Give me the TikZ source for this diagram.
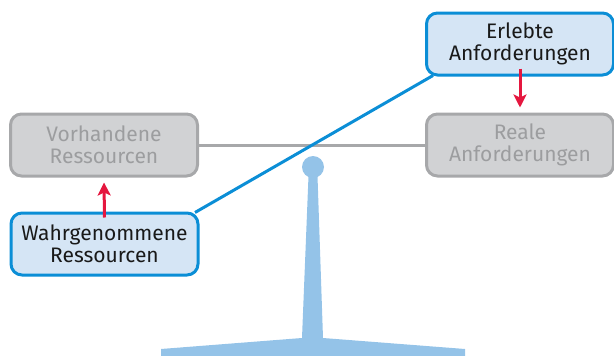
\documentclass[tikz,border=0pt]{standalone}
\usepackage{fontspec}
\setmainfont{Fira Sans}
\usetikzlibrary{arrows.meta}
\definecolor{boxgray}{HTML}{D1D2D4}
\definecolor{edgegray}{HTML}{A7A8AA}
\definecolor{textgray}{HTML}{9C9D9F}
\definecolor{boxblue}{HTML}{D5E5F5}
\definecolor{edgeblue}{HTML}{0B8ED6}
\definecolor{arrred}{HTML}{E5173F}
\definecolor{scaleblue}{HTML}{94C3E8}
\tikzset{
  box/.style={rounded corners=11pt, line width=3pt, minimum width=187pt, minimum height=62pt,
    align=center, inner sep=0pt, font=\fontsize{21}{22}\selectfont},
  graybox/.style={box, draw=edgegray, fill=boxgray, text=textgray},
  bluebox/.style={box, draw=edgeblue, fill=boxblue, text=black!90},
  redarrow/.style={draw=arrred, line width=3pt, -{Stealth[length=13pt,width=13pt,inset=3pt]}},
}
\begin{document}
\begin{tikzpicture}[x=1pt,y=-1pt]
\useasboundingbox (0,0) rectangle (614,356);
% scale support
\fill[scaleblue] (308.5,176) -- (317.5,176) -- (323,338) -- (465,349) -- (465,356) -- (161,356) -- (161,349) -- (302,338) -- cycle;
\fill[scaleblue] (313,167) circle (11);
% nodes
\node[graybox] (vorh) at (104,145) {Vorhandene\\Ressourcen};
\node[graybox] (real) at (520,145) {Reale\\Anforderungen};
\node[bluebox] (wahr) at (104.5,244) {Wahrgenommene\\Ressourcen};
\node[bluebox] (erl) at (520,44) {Erlebte\\Anforderungen};
% beams
\draw[edgegray, line width=3pt] (vorh.east) -- (real.west);
\coordinate (bl) at (195,212.5);
\coordinate (tr) at (433,75.5);
\draw[edgeblue, line width=3pt] (bl) -- (tr);
% arrows
\draw[redarrow] ([yshift=-6pt]wahr.north) -- ([yshift=-5pt]vorh.south);
\draw[redarrow] ([yshift=8pt]erl.south) -- ([yshift=5pt]real.north);
\end{tikzpicture}
\end{document}
